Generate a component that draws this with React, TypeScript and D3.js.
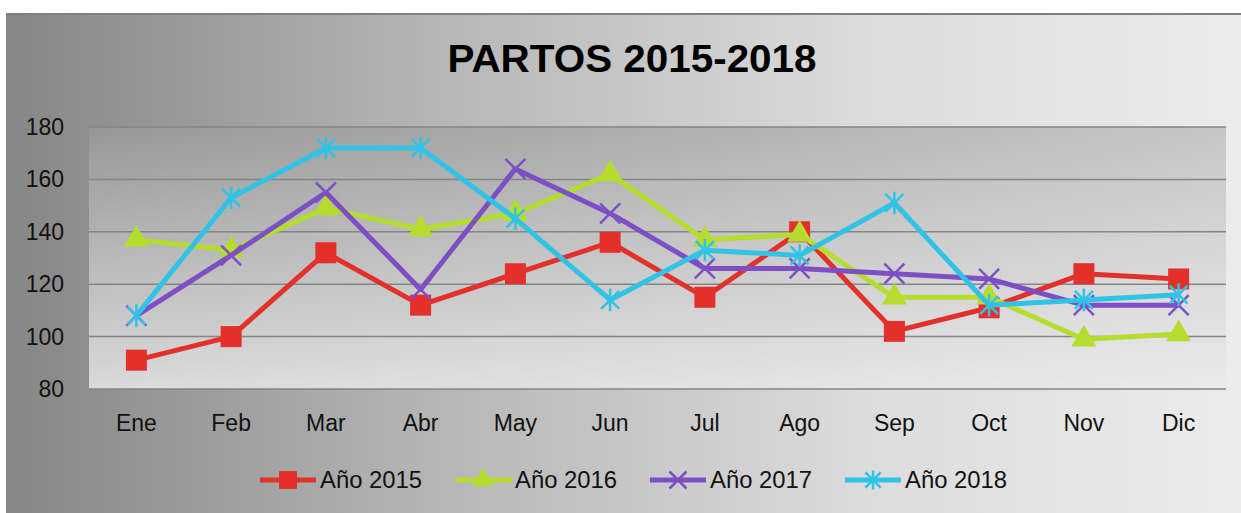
import React from "react";
import * as d3 from "d3";

const months = ["Ene", "Feb", "Mar", "Abr", "May", "Jun", "Jul", "Ago", "Sep", "Oct", "Nov", "Dic"];
const yTicks = [80, 100, 120, 140, 160, 180];
const s2015 = [91, 100, 132, 112, 124, 136, 115, 140, 102, 111, 124, 122];
const s2016 = [137, 133, 149, 141, 147, 162, 137, 139, 115, 115, 99, 101];
const s2017 = [108, 131, 155, 118, 164, 147, 126, 126, 124, 122, 112, 112];
const s2018 = [108, 153, 172, 172, 145, 114, 133, 131, 151, 112, 114, 116];
const seriesNames = ["Año 2015", "Año 2016", "Año 2017", "Año 2018"];
const title = "PARTOS 2015-2018";

const colors = ["#e3302b", "#b4dd2e", "#7e4ec4", "#30c3e6"];
const markers = ["square", "triangle", "x", "asterisk"];

const W = 1241, H = 513;
const plot = { left: 89, right: 1226, top: 127, bottom: 389 };
const FONT = "'Liberation Sans', Arial, sans-serif";

function Marker({ type, x, y, color, scale = 1 }: { type: string; x: number; y: number; color: string; scale?: number }) {
  if (type === "square") {
    const s = 21 * scale;
    return <rect x={x - s / 2} y={y - s / 2} width={s} height={s} fill={color} />;
  }
  if (type === "triangle") {
    const p = d3.symbol().type(d3.symbolTriangle).size(270 * scale * scale)();
    return <path d={p || ""} transform={`translate(${x},${y})`} fill={color} />;
  }
  if (type === "x") {
    const r = 10 * scale;
    return (
      <g stroke={color} strokeWidth={2.5} fill="none">
        <line x1={x - r} y1={y - r} x2={x + r} y2={y + r} />
        <line x1={x - r} y1={y + r} x2={x + r} y2={y - r} />
      </g>
    );
  }
  const r = 9 * scale;
  return (
    <g stroke={color} strokeWidth={2.5} fill="none">
      <line x1={x - r} y1={y - r} x2={x + r} y2={y + r} />
      <line x1={x - r} y1={y + r} x2={x + r} y2={y - r} />
      <line x1={x} y1={y - r * 1.25} x2={x} y2={y + r * 1.25} />
    </g>
  );
}

export default function App() {
  const xBand = d3.scaleBand<string>().domain(months).range([plot.left, plot.right]).padding(0);
  const xc = (m: string) => (xBand(m) as number) + xBand.bandwidth() / 2;
  const y = d3.scaleLinear().domain([80, 180]).range([plot.bottom, plot.top]);
  const line = d3
    .line<number>()
    .x((_, i) => xc(months[i]))
    .y((v) => y(v));
  const allSeries = [s2015, s2016, s2017, s2018];
  const legendX = [283, 478, 673, 868];

  return (
    <svg width={W} height={H} style={{ position: "absolute", left: 0, top: 0 }} fontFamily={FONT}>
      <defs>
        <linearGradient id="bg" x1="0" y1="0" x2="1" y2="0">
          <stop offset="0" stopColor="#868686" />
          <stop offset="0.35" stopColor="#b6b6b6" />
          <stop offset="0.7" stopColor="#dcdcdc" />
          <stop offset="1" stopColor="#ececec" />
        </linearGradient>
        <linearGradient id="pv" x1="0" y1="0" x2="0" y2="1">
          <stop offset="0" stopColor="#979797" />
          <stop offset="1" stopColor="#dadada" />
        </linearGradient>
        <linearGradient id="ph" x1="0" y1="0" x2="1" y2="0">
          <stop offset="0" stopColor="#ffffff" stopOpacity="0" />
          <stop offset="1" stopColor="#ffffff" stopOpacity="0.45" />
        </linearGradient>
      </defs>
      <rect x={0} y={0} width={W} height={H} fill="#ffffff" />
      <rect x={6} y={13} width={W - 6} height={H - 13} fill="url(#bg)" />
      <line x1={6} y1={14} x2={W} y2={14} stroke="#808080" strokeWidth={2} />
      <rect x={plot.left} y={plot.top} width={plot.right - plot.left} height={plot.bottom - plot.top} fill="url(#pv)" />
      <rect x={plot.left} y={plot.top} width={plot.right - plot.left} height={plot.bottom - plot.top} fill="url(#ph)" />

      <text x={632} y={72} textAnchor="middle" fontSize={39} fontWeight="bold" fill="#000" textLength={369} lengthAdjust="spacingAndGlyphs">
        {title}
      </text>

      {yTicks.map((t) => (
        <g key={t}>
          <line x1={plot.left} x2={plot.right} y1={y(t)} y2={y(t)} stroke="#858585" strokeWidth={1.5} />
          <text x={64} y={y(t)} dy="0.35em" textAnchor="end" fontSize={23} fill="#111">
            {t}
          </text>
        </g>
      ))}

      {months.map((m) => (
        <text key={m} x={xc(m)} y={431} textAnchor="middle" fontSize={23} fill="#111">
          {m}
        </text>
      ))}

      {allSeries.map((s, si) => (
        <g key={si}>
          <path d={line(s) || ""} fill="none" stroke={colors[si]} strokeWidth={5} strokeLinejoin="round" />
          {s.map((v, i) => (
            <Marker key={i} type={markers[si]} x={xc(months[i])} y={y(v)} color={colors[si]} />
          ))}
        </g>
      ))}

      {seriesNames.map((n, i) => (
        <g key={n}>
          <line x1={legendX[i] - 23} x2={legendX[i] + 33} y1={480} y2={480} stroke={colors[i]} strokeWidth={5} />
          <Marker type={markers[i]} x={legendX[i] + 5} y={480} color={colors[i]} scale={0.85} />
          <text x={legendX[i] + 37} y={480} dy="0.35em" fontSize={23} fill="#111" textLength={102} lengthAdjust="spacingAndGlyphs">
            {n}
          </text>
        </g>
      ))}
    </svg>
  );
}
